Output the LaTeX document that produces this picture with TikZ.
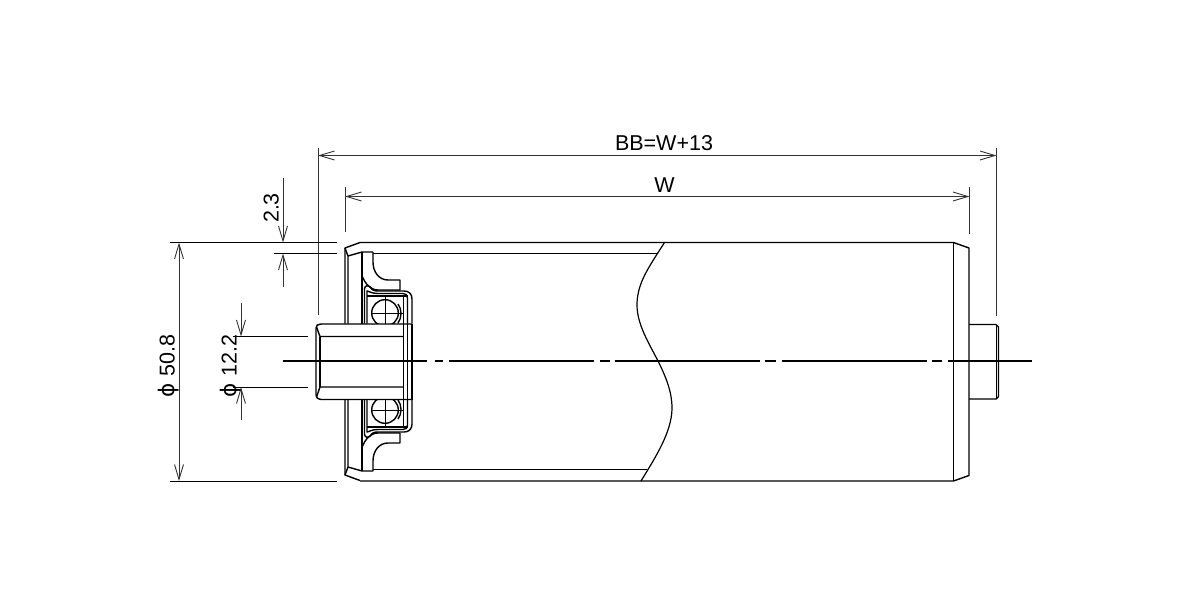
\documentclass[tikz,border=0pt]{standalone}
\usepackage{fontspec}
\setmainfont{Liberation Sans}
\newfontfamily\symfont{DejaVu Sans}
\usetikzlibrary{arrows.meta}
\newcommand{\dimtext}[1]{\fontsize{21.5}{22}\selectfont #1}
\newcommand{\flangehalf}{%
  % end cap of the tube
  \draw[part] (360,242.5) -- (345,248) -- (345,323.5);
  \draw[part] (348,323.5) -- (348,256) -- (345,248);
  \draw[part] (348,256) -- (362,252) -- (373,252);
  \draw[part] (362,252) -- (362,323.5);
  % pressed housing
  \draw[part] (373,252) -- (373,262) .. controls (373,272) and (379,280) .. (388,280) -- (400,280) -- (400,290);
  \draw[part] (362,276) .. controls (365,283) and (370,290) .. (378,290) -- (400,290);
  % bearing shell
  \draw[part] (364.5,323.5) -- (364.5,289) .. controls (364.5,285.5) and (368,285) .. (370,287) .. controls (372,290) and (374,291) .. (378,291) -- (404,291) .. controls (409,291) and (412,294) .. (412,299) -- (412,323.5);
  \draw[part] (367,323.5) -- (367,291) .. controls (369,291) and (371,293.5) .. (378,293.5) -- (403,293.5) .. controls (406,293.5) and (407.5,295) .. (407.5,298) -- (407.5,323.5);
  \draw[part] (367,296) -- (407.5,296);
  \draw[part] (403.5,296) -- (403.5,323.5);
  % ball
  \draw[part] (385,313) circle[radius=13.3];
  \draw[thinline] (372,313) -- (404,313);
  \draw[thinline] (385,295) -- (385,332);
  \draw[part] (398,304) .. controls (402,309) and (402,318) .. (398,323);
}
\tikzset{
  part/.style={draw=black,line width=1.4pt,line join=round},
  thinline/.style={draw=black,line width=1pt},
  ext/.style={draw=black!80,line width=1pt},
  dimline/.style={draw=black!80,line width=1pt,{Straight Barb[length=15pt,width=9pt,line width=0.9pt]}-{Straight Barb[length=15pt,width=9pt,line width=0.9pt]}},
  dimone/.style={draw=black!80,line width=1pt,-{Straight Barb[length=15pt,width=9pt,line width=0.9pt]}},
  dimlabel/.style={inner sep=0pt,text height=15.4pt,text depth=0pt,text=black},
  cline/.style={draw=black,line width=1.25pt},
}
\begin{document}
\begin{tikzpicture}[x=1pt,y=-1pt]
\useasboundingbox (0,0) rectangle (1200,600);
\fill[white] (0,0) rectangle (1200,600);

% named reference points
\coordinate (bbL) at (318,155.5);
\coordinate (bbR) at (996.5,155.5);
\coordinate (wL) at (345,196.5);
\coordinate (wR) at (969.5,196.5);
\coordinate (topA) at (283,242.5);
\coordinate (topB) at (283,253.5);
\coordinate (phiT) at (179,242.5);
\coordinate (phiB) at (179,481);
\coordinate (shT) at (241,336.5);
\coordinate (shB) at (241,387);

% upper and lower flange
\flangehalf
\begin{scope}[shift={(0,723)},yscale=-1]
\flangehalf
\end{scope}

% tube outline
\draw[part] (373,253.5) -- (656.5,253.5);
\draw[part] (373,469.5) -- (647,469.5);
\draw[part] (360,242.5) -- (953.5,242.5) -- (969,248) -- (969,475.5) -- (953.5,481) -- (360,481);
\draw[part] (953.5,242.5) -- (953.5,481);

% stub shaft at the right
\draw[part] (969,324.5) -- (996,324.5) -- (998.5,327) -- (998.5,396.5) -- (996,399) -- (969,399);
\draw[part] (996.5,325) -- (996.5,398.5);

% hollow shaft
\draw[part,fill=white,rounded corners=2.5pt] (412,324) -- (319,324) -- (316,326) -- (316,397) -- (319,399.5) -- (412,399.5);
\draw[part] (316.5,327) -- (320,336.5) -- (403.5,336.5);
\draw[part] (316.5,397) -- (320,387) -- (403.5,387);
\draw[part] (320,336.5) -- (320,387);
\draw[part] (403.5,324) -- (403.5,399.5);
\draw[part] (407.5,324) -- (407.5,399.5);
\draw[part] (412,324) -- (412,399.5);

% broken-out line
\draw[part,line width=1.2pt] (664.5,242.5) -- (656.5,255) .. controls (645,273) and (637,287) .. (637,305) .. controls (637,325) and (650,345) .. (658,361) .. controls (666,377) and (672,392) .. (672,408) .. controls (672,432) and (655,458) .. (641,481);

% centre line
\draw[cline] (283,361) -- (427,361);
\draw[cline] (435,361) -- (443,361);
\draw[cline] (449,361) -- (594,361);
\draw[cline] (600,361) -- (610,361);
\draw[cline] (615,361) -- (760,361);
\draw[cline] (765,361) -- (776,361);
\draw[cline] (782,361) -- (927,361);
\draw[cline] (932,361) -- (942,361);
\draw[cline] (948,361) -- (1032,361);

% extension lines
\draw[ext] (318,148) -- (318,315);
\draw[ext] (996.5,148) -- (996.5,316);
\draw[ext] (345,187) -- (345,232);
\draw[ext] (969.5,187) -- (969.5,234);
\draw[thinline] (170,242.5) -- (337,242.5);
\draw[thinline] (274,253.5) -- (337,253.5);
\draw[thinline] (170,481) -- (337,481);
\draw[thinline] (233,336.5) -- (308,336.5);
\draw[thinline] (233,387) -- (308,387);

% dimension lines
\draw[dimline] (bbL) -- (bbR);
\draw[dimline] (wL) -- (wR);
\draw[dimline] (phiT) -- (phiB);
\coordinate (a1) at (283,178);
\coordinate (a2) at (283,287);
\draw[dimone] (a1) -- (topA);
\draw[dimone] (a2) -- (topB);
\coordinate (b1) at (241,303);
\coordinate (b2) at (241,420);
\draw[dimone] (b1) -- (shT);
\draw[dimone] (b2) -- (shB);

% labels
\node[dimlabel] (lbb) at (664,143) {\dimtext{BB=W+13}};
\node[dimlabel] (lw) at (664.5,185) {\dimtext{W}};
\node[dimlabel,rotate=90] (l23) at (271,208) {\dimtext{2.3}};
\node[dimlabel,rotate=90] (l508) at (167,366) {\dimtext{{\symfont ϕ} 50.8}};
\node[dimlabel,rotate=90] (l122) at (229,366) {\dimtext{{\symfont ϕ} 12.2}};
\end{tikzpicture}
\end{document}
